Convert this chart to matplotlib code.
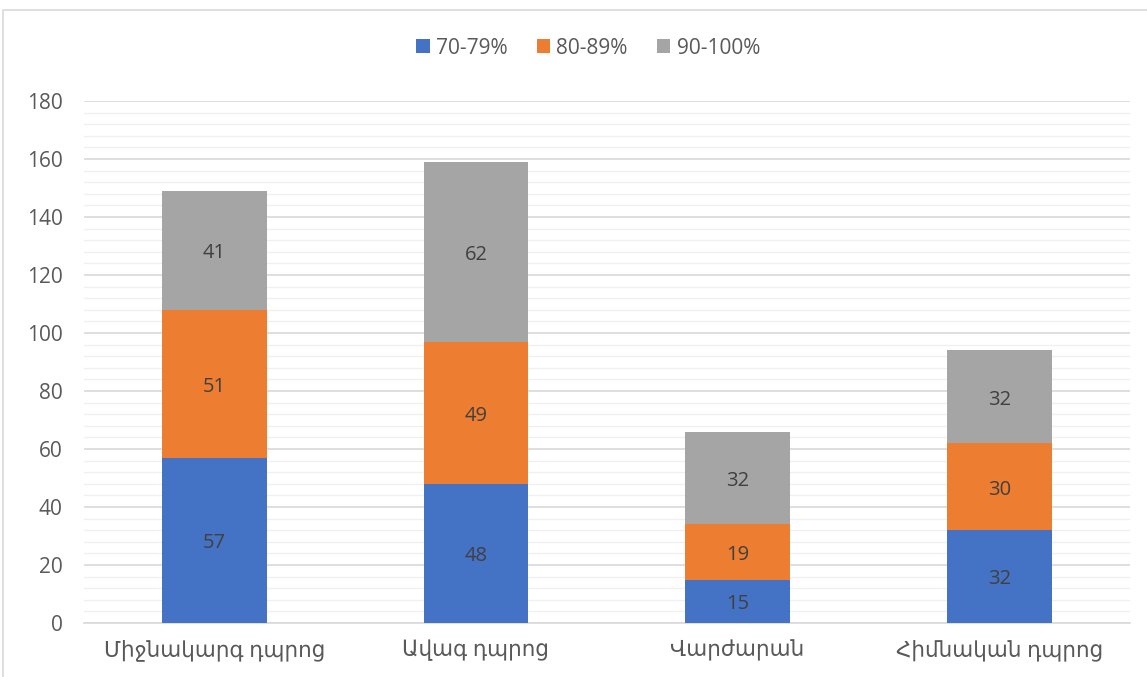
import matplotlib.pyplot as plt
import numpy as np
from matplotlib.ticker import MultipleLocator
from matplotlib.patches import Rectangle

categories = ["Միջնակարգ դպրոց", "Ավագ դպրոց", "Վարժարան", "Հիմնական դպրոց"]
s70 = [57, 48, 15, 32]
s80 = [51, 49, 19, 30]
s90 = [41, 62, 32, 32]
series_names = ["70-79%", "80-89%", "90-100%"]
colors = ["#4472C4", "#ED7D31", "#A5A5A5"]

plt.rcParams['font.family'] = ['Open Sans', 'DejaVu Sans']
txt = "#595959"

fig = plt.figure(figsize=(11.47, 6.77), dpi=100)
ax = fig.add_axes([83.5 / 1147, 1 - 623 / 677, (1130 - 83.5) / 1147, 522 / 677])

# chart area border
fig.patches.append(Rectangle((3 / 1147, -0.05), 1.1, 1 - 10 / 677 + 0.05, transform=fig.transFigure,
                             fill=False, edgecolor="#d9d9d9", linewidth=1.2))

x = np.arange(len(categories))
bottom = np.zeros(len(categories))
for vals, name, c in zip([s70, s80, s90], series_names, colors):
    bars = ax.bar(x, vals, 0.4, bottom=bottom, color=c, label=name, zorder=3)
    for b, v, y0 in zip(bars, vals, bottom):
        ax.text(b.get_x() + b.get_width() / 2, y0 + v / 2 - 1, str(v), ha="center", va="center",
                fontsize=14.5, color="#404040", zorder=4)
    bottom += np.array(vals)

ax.set_xlim(-0.5, len(categories) - 0.5)
ax.set_ylim(0, 180)
ax.yaxis.set_major_locator(MultipleLocator(20))
ax.yaxis.set_minor_locator(MultipleLocator(4))
ax.grid(axis="y", which="major", color="#d9d9d9", linewidth=1.2, zorder=0)
ax.grid(axis="y", which="minor", color="#f0f0f0", linewidth=1.0, zorder=0)
for s in ["top", "right", "left"]:
    ax.spines[s].set_visible(False)
ax.spines["bottom"].set_color("#d9d9d9")
ax.spines["bottom"].set_linewidth(1.2)
ax.tick_params(axis="both", which="both", length=0)
ax.tick_params(axis="y", labelsize=15, labelcolor=txt, pad=15)
ax.set_xticks(x)
ax.set_xticklabels(categories, fontsize=15.5, color=txt)
ax.tick_params(axis="x", pad=12)

fig.legend(loc="center", bbox_to_anchor=(588 / 1147, 1 - 48 / 677), ncol=3, frameon=False,
           fontsize=15, labelcolor=txt, handlelength=0.65, handleheight=0.65, handletextpad=0.3,
           columnspacing=1.4)

fig.savefig("out.png", dpi=100)
